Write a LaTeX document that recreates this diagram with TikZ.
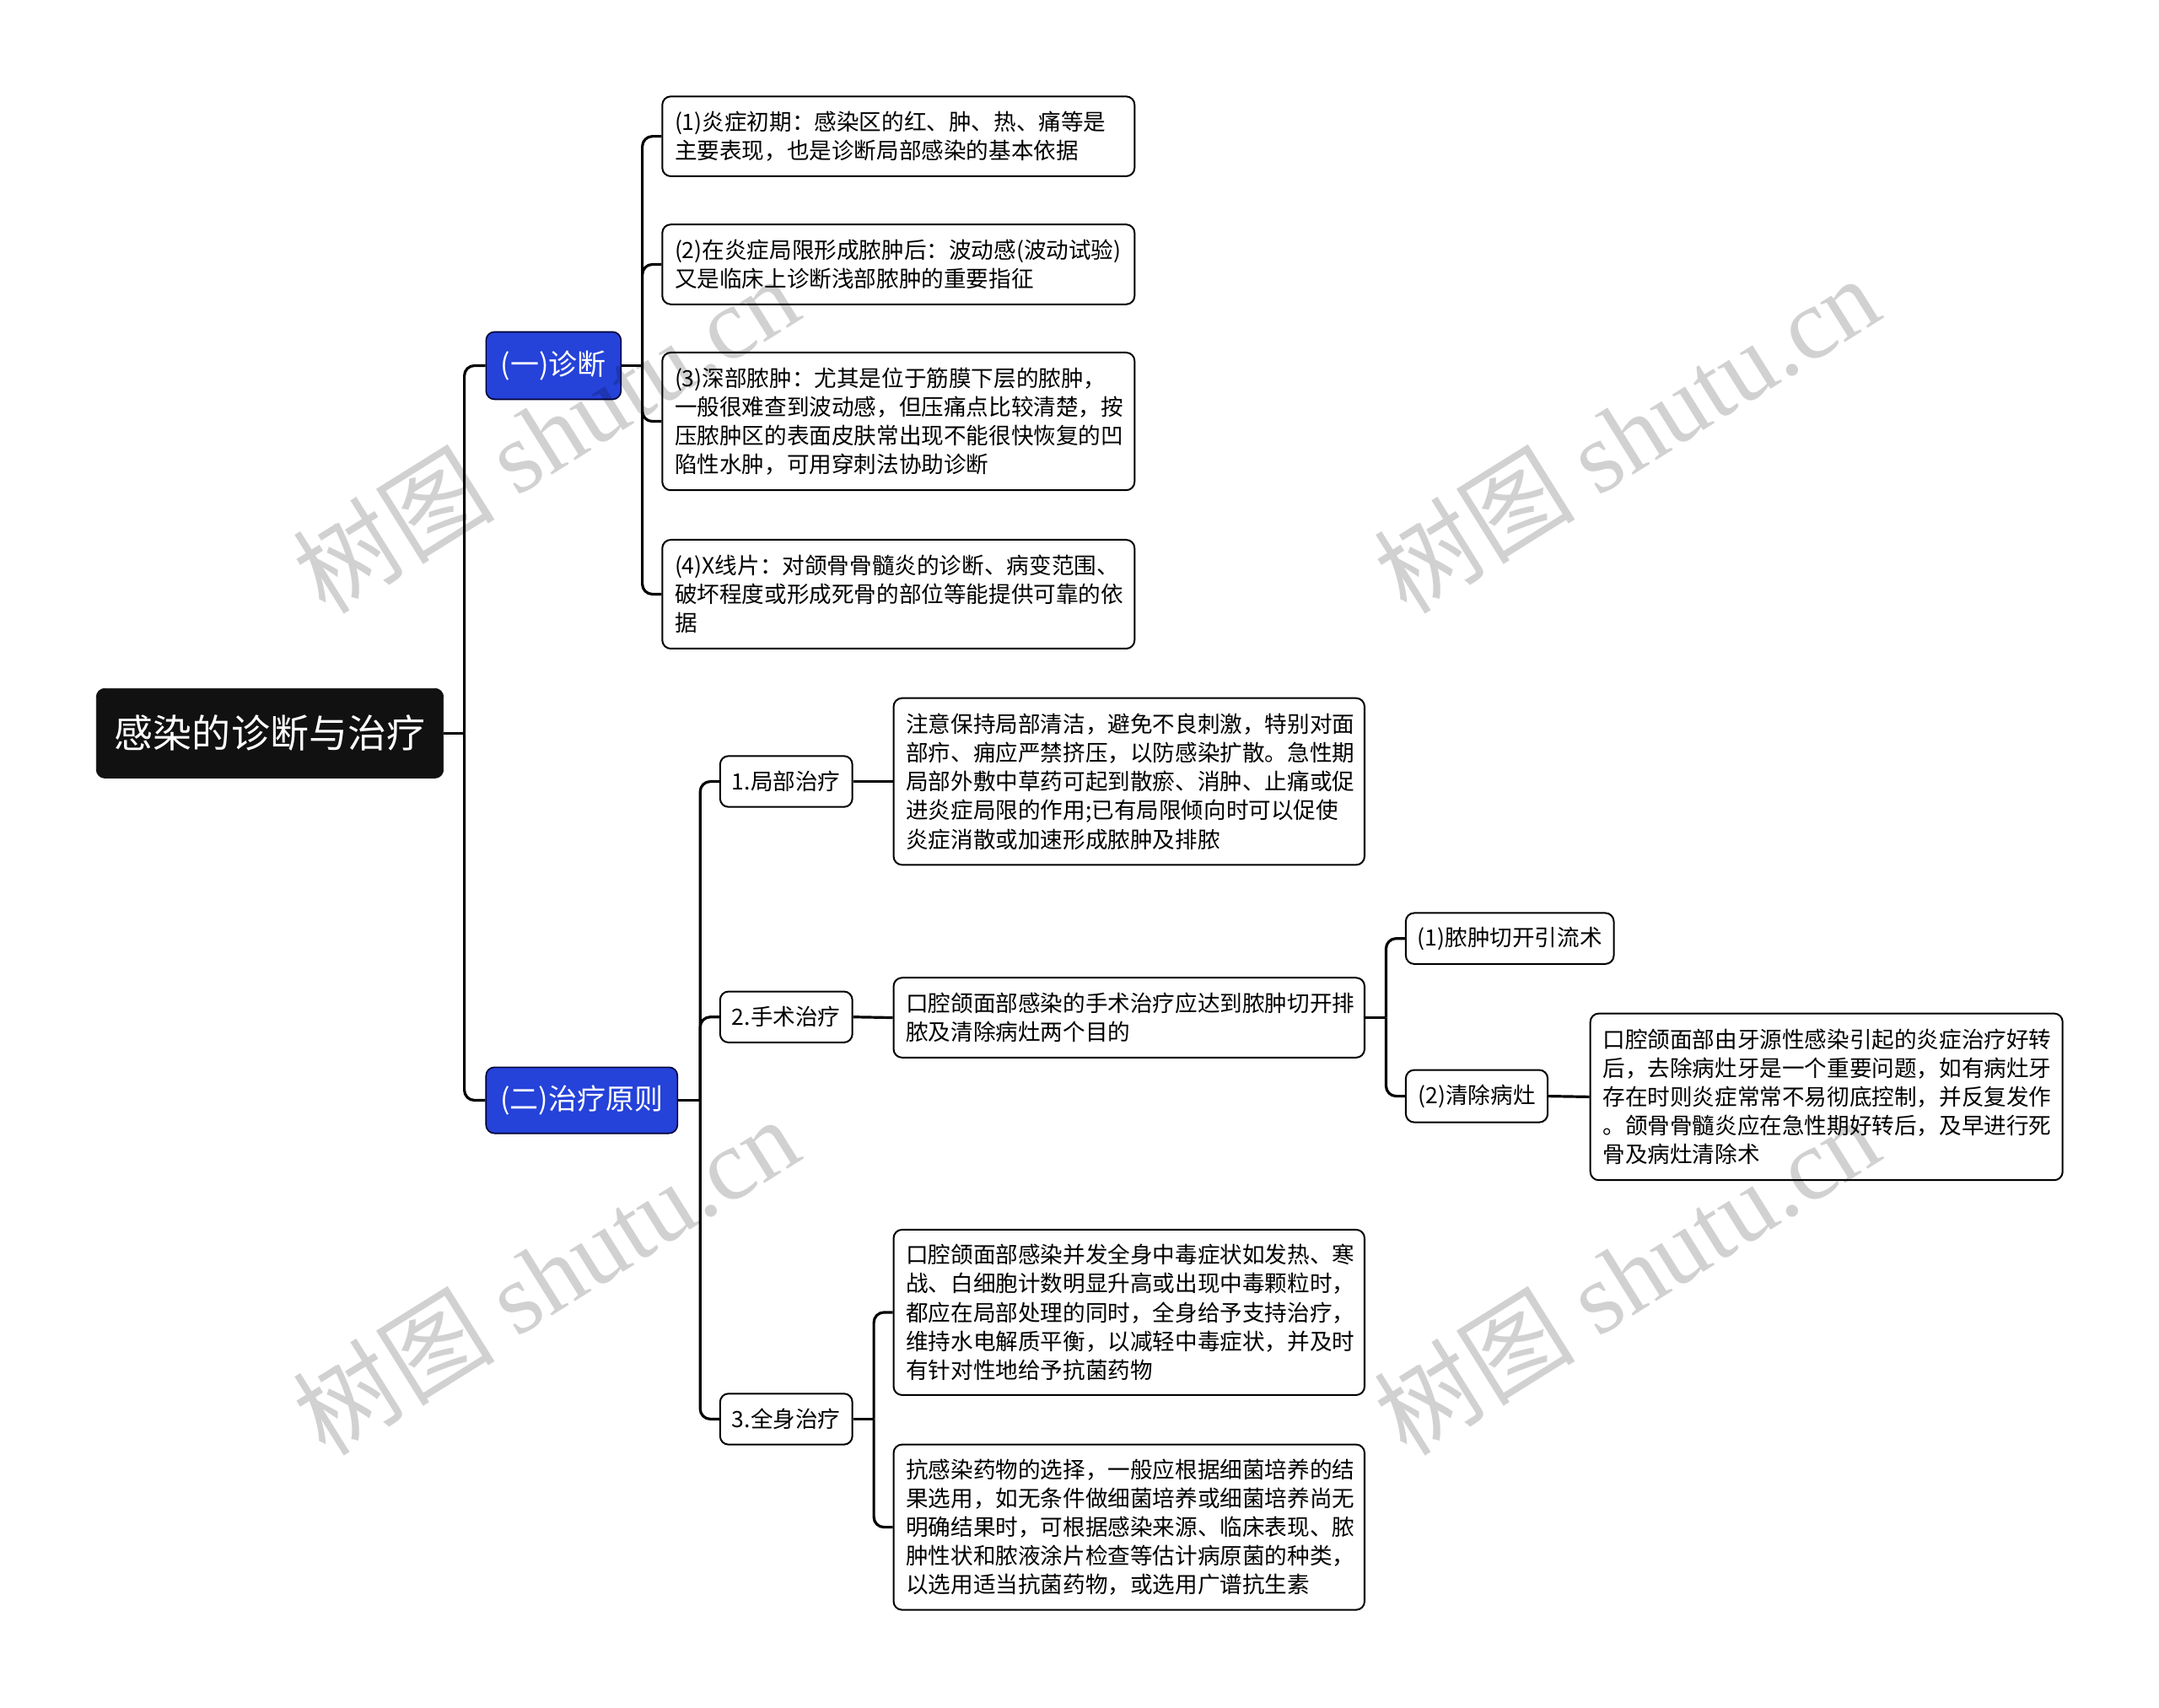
\documentclass[tikz,border=0pt]{standalone}
\usepackage{fontspec}
\setmainfont{Noto Sans CJK SC}
\newfontfamily\wmfont{Liberation Serif}
\usetikzlibrary{calc}
\definecolor{bluebox}{HTML}{2542D9}
\definecolor{rootbox}{HTML}{111111}
\begin{document}
\begin{tikzpicture}[x=0.8163pt,y=-0.8163pt,
  box/.style={draw=black, line width=1pt, rounded corners=5pt, fill=white,
    inner xsep=7.3pt, inner ysep=0pt, align=left,
    font=\fontsize{13.3}{17.1}\selectfont},
  bigbox/.style={box, minimum width=280pt, text width=265.3pt},
  lab/.style={draw=black, line width=1pt, rounded corners=5pt, fill=white,
    inner xsep=0pt, inner ysep=0pt, align=center,
    font=\fontsize{13.3}{17.1}\selectfont},
  bluenode/.style={draw=black!80!blue, line width=0.8pt, rounded corners=5pt, fill=bluebox,
    text=white, inner sep=0pt, align=center, font=\fontsize{17}{20}\selectfont},
  rootnode/.style={draw=rootbox, fill=rootbox, rounded corners=5pt, text=white,
    inner sep=0pt, align=center, font=\fontsize{23}{26}\selectfont},
  conn/.style={line width=1.6pt, rounded corners=6pt},
  wm/.style={text=black, opacity=0.18, font=\fontsize{60}{66}\selectfont, inner sep=0pt}
]
\useasboundingbox (0,0) rectangle (1568,1240);

% root
\node[rootnode, minimum width=205.7pt, minimum height=53.1pt] (root) at (196,532.5) {感染的诊断与治疗};

% level 1
\node[bluenode, minimum width=80pt, minimum height=40pt] (diag) at (402,265.5) {(一)诊断};
\node[bluenode, minimum width=113.5pt, minimum height=39.2pt] (treat) at (422.5,799) {(二)治疗原则};

% diagnosis children
\node[bigbox, minimum height=47.3pt] (d1) at (652.5,99) {(1)炎症初期：感染区的红、肿、热、痛等是\\主要表现，也是诊断局部感染的基本依据};
\node[bigbox, minimum height=47.3pt] (d2) at (652.5,192) {(2)在炎症局限形成脓肿后：波动感(波动试验)\\又是临床上诊断浅部脓肿的重要指征};
\node[bigbox, minimum height=81.6pt] (d3) at (652.5,306) {(3)深部脓肿：尤其是位于筋膜下层的脓肿，\\一般很难查到波动感，但压痛点比较清楚，按\\压脓肿区的表面皮肤常出现不能很快恢复的凹\\陷性水肿，可用穿刺法协助诊断};
\node[bigbox, minimum height=64.5pt] (d4) at (652.5,431.5) {(4)X线片：对颌骨骨髓炎的诊断、病变范围、\\破坏程度或形成死骨的部位等能提供可靠的依\\据};

% treatment labels
\node[lab, minimum width=78.4pt, minimum height=30.2pt] (t1) at (571,567.5) {1.局部治疗};
\node[lab, minimum width=78.4pt, minimum height=30.2pt] (t2) at (571,738.5) {2.手术治疗};
\node[lab, minimum width=78.4pt, minimum height=30.2pt] (t3) at (571,1030.5) {3.全身治疗};

% local treatment
\node[box, minimum width=279.2pt, text width=264.5pt, minimum height=98.8pt] (l1) at (820,567.5) {注意保持局部清洁，避免不良刺激，特别对面\\部疖、痈应严禁挤压，以防感染扩散。急性期\\局部外敷中草药可起到散瘀、消肿、止痛或促\\进炎症局限的作用;已有局限倾向时可以促使\\炎症消散或加速形成脓肿及排脓};

% surgery
\node[box, minimum width=279.2pt, text width=264.5pt, minimum height=47.3pt] (s1) at (820,739) {口腔颌面部感染的手术治疗应达到脓肿切开排\\脓及清除病灶两个目的};
\node[lab, minimum width=123.3pt, minimum height=30.2pt] (s1a) at (1096.5,681.5) {(1)脓肿切开引流术};
\node[lab, minimum width=84.1pt, minimum height=31pt] (s1b) at (1072.5,796) {(2)清除病灶};
\node[bigbox, minimum height=98.8pt] (s1b1) at (1326.5,796.5) {口腔颌面部由牙源性感染引起的炎症治疗好转\\后，去除病灶牙是一个重要问题，如有病灶牙\\存在时则炎症常常不易彻底控制，并反复发作\\。颌骨骨髓炎应在急性期好转后，及早进行死\\骨及病灶清除术};

% systemic
\node[box, minimum width=279.2pt, text width=264.5pt, minimum height=98pt] (q1) at (820,953) {口腔颌面部感染并发全身中毒症状如发热、寒\\战、白细胞计数明显升高或出现中毒颗粒时，\\都应在局部处理的同时，全身给予支持治疗，\\维持水电解质平衡，以减轻中毒症状，并及时\\有针对性地给予抗菌药物};
\node[box, minimum width=279.2pt, text width=264.5pt, minimum height=98pt] (q2) at (820,1109) {抗感染药物的选择，一般应根据细菌培养的结\\果选用，如无条件做细菌培养或细菌培养尚无\\明确结果时，可根据感染来源、临床表现、脓\\肿性状和脓液涂片检查等估计病原菌的种类，\\以选用适当抗菌药物，或选用广谱抗生素};

% connectors
\coordinate (rj) at ($(root.east)+(15,0)$);
\draw[conn] (root.east) -- (rj);
\draw[conn] (rj) |- (diag.west);
\draw[conn] (rj) |- (treat.west);

\coordinate (dj) at ($(diag.east)+(15,0)$);
\draw[conn] (diag.east) -- (dj);
\foreach \c in {d1,d2,d3,d4} \draw[conn] (dj) |- (\c.west);

\coordinate (tj) at ($(treat.east)+(16,0)$);
\draw[conn] (treat.east) -- (tj);
\foreach \c in {t1,t2,t3} \draw[conn] (tj) |- (\c.west);

\draw[conn] (t1.east) -- (l1.west);
\draw[conn] (t2.east) -- (s1.west);

\coordinate (sj) at ($(s1.east)+(15,0)$);
\draw[conn] (s1.east) -- (sj);
\draw[conn] (sj) |- (s1a.west);
\draw[conn] (sj) |- (s1b.west);
\draw[conn] (s1b.east) -- (s1b1.west);

\coordinate (qj) at ($(t3.east)+(15,0)$);
\draw[conn] (t3.east) -- (qj);
\draw[conn] (qj) |- (q1.west);
\draw[conn] (qj) |- (q2.west);

% watermarks
\node[wm, rotate=32] (wm1) at (396,315) {树图 {\wmfont shutu.cn}};
\node[wm, rotate=32] (wm2) at (1181,315) {树图 {\wmfont shutu.cn}};
\node[wm, rotate=32] (wm3) at (396,926) {树图 {\wmfont shutu.cn}};
\node[wm, rotate=32] (wm4) at (1181,926) {树图 {\wmfont shutu.cn}};
\end{tikzpicture}
\end{document}
